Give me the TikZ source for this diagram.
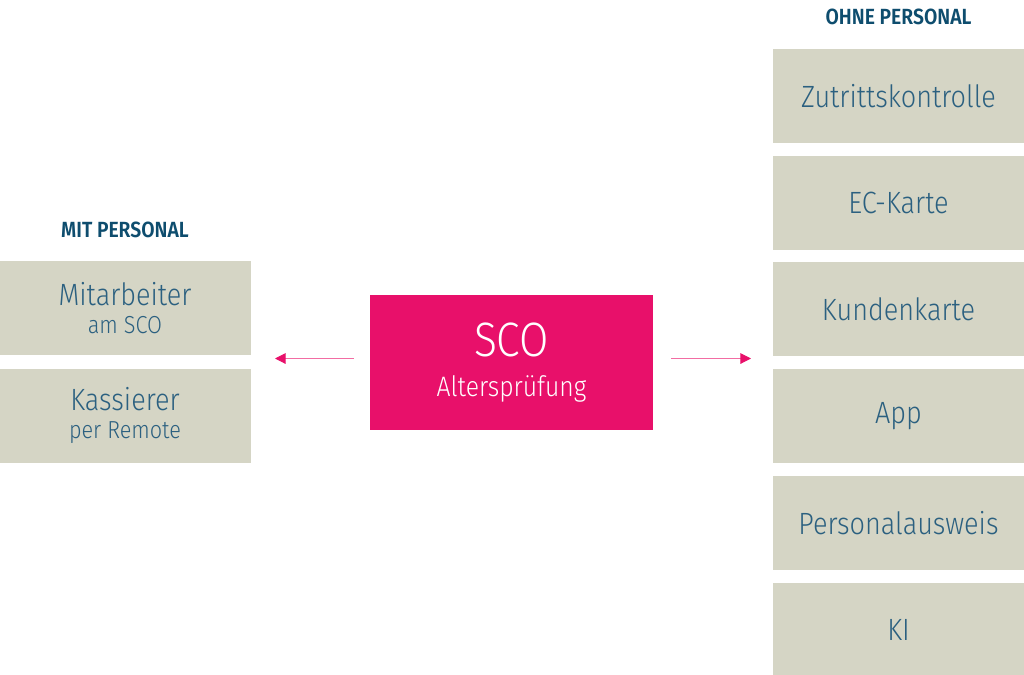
\documentclass[tikz,border=0pt]{standalone}
\usepackage{fontspec}
\setmainfont{Fira Sans}[UprightFont=* Light, BoldFont=* SemiBold, FakeStretch=0.88]
\usetikzlibrary{positioning}
\usetikzlibrary{arrows.meta}

\definecolor{cajagris}{HTML}{D5D5C5}
\definecolor{textoazul}{HTML}{2B6080}
\definecolor{tituloazul}{HTML}{0E4D6E}
\definecolor{scorosa}{HTML}{E8106A}
\definecolor{rosaclaro}{HTML}{F26DA3}

\begin{document}
\begin{tikzpicture}[
	caja/.style={fill=cajagris, text=textoazul, minimum width=5.02cm, minimum height=1.88cm,
		inner sep=0pt, align=center, font=\fontsize{17.5}{20}\selectfont},
	titulo/.style={text=tituloazul, inner sep=0pt, font=\bfseries\fontsize{12.5}{14}\selectfont},
	pfeil/.style={-{Triangle[length=6pt,width=6pt,color=scorosa]}, draw=rosaclaro, line width=0.6pt}]
			% Marco
			\useasboundingbox (0,0) rectangle (20.48,-13.5);
			
			% Caja central
			\node[fill=scorosa, text=white, minimum width=5.66cm, minimum height=2.7cm, inner sep=0pt, align=center]
				(sco) at (10.23,-7.25) {{\fontsize{27.5}{27.5}\selectfont SCO}\\[10pt]{\fontsize{16}{16}\selectfont Altersprüfung}};
			
			% Mit Personal
			\node[caja] (mit) at (2.5,-6.16) {Mitarbeiter\\[-4pt]{\fontsize{14}{14}\selectfont am SCO}};
			\node[caja, below=0.26cm of mit] (kas) {Kassierer\\[-4pt]{\fontsize{14}{14}\selectfont per Remote}};
			\node[titulo, above=0.45cm of mit] (tmit) {MIT PERSONAL};
			
			% Ohne Personal
			\node[caja] (zut) at (17.97,-1.92) {Zutrittskontrolle};
			\node[caja, below=0.24cm of zut] (ec) {EC-Karte};
			\node[caja, below=0.24cm of ec] (kun) {Kundenkarte};
			\node[caja, below=0.24cm of kun] (app) {App};
			\node[caja, below=0.24cm of app] (ausw) {Personalausweis};
			\node[caja, below=0.24cm of ausw] (ki) {KI};
			\node[titulo, above=0.47cm of zut] (tohne) {OHNE PERSONAL};
			
			% Flechas
			\coordinate (links) at (5.5,-7.17);
			\coordinate (rechts) at (15.02,-7.17);
			\draw[pfeil] (sco.west |- links) ++(-0.32,0) -- (links);
			\draw[pfeil] (sco.east |- rechts) ++(0.36,0) -- (rechts);
		\end{tikzpicture}
\end{document}
